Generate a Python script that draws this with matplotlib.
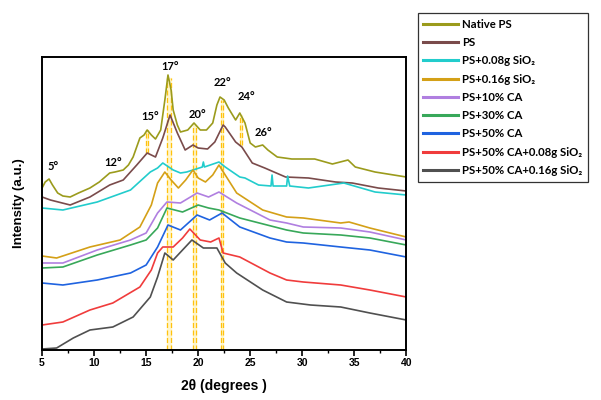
import matplotlib
matplotlib.use('Agg')
import matplotlib.pyplot as plt
from matplotlib.ticker import MultipleLocator

# curve data (2theta in degrees, intensity in arbitrary offset units)
native_x = [5.0, 5.3, 5.67, 6.0, 6.5, 7.0, 7.7, 8.5, 9.6, 10.5, 11.5, 12.0, 12.8, 13.3, 13.75, 14.4, 14.8, 15.1,
            15.5, 15.9, 16.4, 16.8, 17.1, 17.4, 17.6, 18.0, 18.3, 19.0, 19.6, 20.2, 20.8, 21.4, 21.8, 22.1, 22.5,
            22.9, 23.6, 24.0, 24.5, 25.0, 25.5, 26.2, 26.7, 27.6, 29.0, 31.2, 32.9, 34.4, 35.1, 37.0, 40.0]
native_y = [162, 168, 171, 165, 157, 154, 153, 157, 162, 168, 177, 178, 180, 185, 193, 212, 215, 220,
            215, 211, 220, 250, 275, 260, 240, 225, 218, 220, 227, 220, 220, 227, 245, 253, 250,
            242, 230, 237, 227, 207, 203, 205, 200, 193, 191, 191, 186, 190, 183, 178, 173]

ps_x = [5.0, 5.8, 7.7, 9.6, 11.5, 12.8, 14.1, 15.1, 15.9, 16.6, 17.3, 18.0, 18.75, 19.5, 20.0, 20.9, 21.6,
        22.4, 22.6, 23.6, 24.2, 25.2, 26.4, 28.4, 30.6, 33.2, 34.8, 37.3, 40.0]
ps_y = [153, 150, 145, 153, 165, 170, 185, 197, 193, 212, 235, 217, 200, 205, 202, 201, 208,
        225, 223, 208, 203, 187, 182, 173, 172, 168, 167, 162, 159]

si08_x = [5.0, 7.0, 10.3, 13.5, 15.4, 16.1, 16.6, 17.6, 18.3, 18.9, 20.4, 20.5, 20.6, 22.0, 22.6, 24.0, 24.5,
          25.8, 27.0, 27.1, 27.2, 28.5, 28.6, 28.8, 30.6, 34.0, 37.0, 40.0]
si08_y = [142, 140, 148, 160, 178, 182, 187, 180, 177, 178, 183, 188, 183, 188, 183, 173, 172,
          165, 164, 175, 164, 164, 174, 164, 162, 167, 158, 155]

si16_x = [5.0, 6.4, 9.6, 12.5, 14.4, 15.5, 16.1, 16.8, 17.4, 18.1, 18.8, 19.5, 20.0, 20.7, 21.4, 22.0, 22.6,
          23.7, 26.2, 28.5, 30.1, 33.7, 34.5, 36.5, 40.0]
si16_y = [94, 92, 103, 110, 123, 145, 167, 178, 170, 162, 170, 180, 172, 168, 175, 185, 175,
          157, 140, 133, 132, 127, 128, 122, 113]

ca10_x = [5.0, 7.0, 10.3, 13.5, 15.0, 16.1, 17.0, 18.3, 19.9, 21.0, 22.0, 23.7, 26.9, 28.5, 30.1, 33.7, 36.5, 40.0]
ca10_y = [87, 87, 100, 110, 117, 137, 148, 147, 157, 153, 158, 147, 130, 127, 123, 122, 118, 110]

ca30_x = [5.0, 7.0, 10.3, 13.5, 15.0, 16.1, 17.0, 18.5, 20.0, 21.0, 22.0, 24.0, 28.5, 30.1, 33.7, 36.5, 40.0]
ca30_y = [82, 83, 95, 105, 110, 122, 142, 138, 145, 142, 140, 132, 120, 117, 115, 112, 105]

ca50_x = [5.0, 7.0, 10.3, 13.5, 15.0, 16.1, 17.1, 18.3, 19.9, 21.1, 22.3, 24.0, 26.9, 28.5, 30.1, 33.7, 36.5, 40.0]
ca50_y = [67, 65, 70, 77, 85, 103, 125, 120, 135, 130, 137, 123, 112, 108, 107, 103, 100, 93]

ca50_si08_x = [5.0, 7.0, 9.6, 11.8, 14.4, 15.5, 16.1, 16.6, 17.6, 18.5, 19.2, 20.2, 21.2, 22.0, 22.4, 24.0,
               26.9, 28.5, 30.1, 33.7, 36.5, 40.0]
ca50_si08_y = [25, 28, 40, 47, 63, 80, 97, 103, 103, 112, 121, 110, 108, 112, 97, 93,
               77, 70, 68, 65, 60, 53]

ca50_si16_x = [5.0, 6.4, 8.0, 9.6, 11.8, 13.75, 15.4, 16.1, 16.8, 17.6, 18.5, 19.4, 20.5, 21.8, 22.6, 23.7,
               26.2, 28.5, 30.8, 33.7, 36.5, 40.0]
ca50_si16_y = [1, 2, 12, 20, 23, 33, 53, 73, 97, 90, 100, 110, 102, 102, 87, 77,
               60, 48, 45, 43, 37, 30]

labels = ['Native PS', 'PS', 'PS+0.08g SiO₂', 'PS+0.16g SiO₂', 'PS+10% CA',
          'PS+30% CA', 'PS+50% CA', 'PS+50% CA+0.08g SiO₂', 'PS+50% CA+0.16g SiO₂']
colors = ['#9B9B1C', '#7A4B4B', '#22CCCC', '#D4A017', '#B07FE0', '#38A85A', '#1F63E0', '#F03C3C', '#505050']
xs = [native_x, ps_x, si08_x, si16_x, ca10_x, ca30_x, ca50_x, ca50_si08_x, ca50_si16_x]
ys = [native_y, ps_y, si08_y, si16_y, ca10_y, ca30_y, ca50_y, ca50_si08_y, ca50_si16_y]

# peak markers (pairs of dashed lines) and peak labels
mark_x = [17.05, 17.35, 19.55, 19.8, 22.15, 22.4, 15.0, 15.2, 24.0, 24.2]
mark_lo = [0, 0, 0, 0, 0, 0, 197, 197, 205, 205]
mark_hi = [272, 272, 225, 225, 250, 250, 220, 220, 235, 235]
peak_text = ['5°', '12°', '15°', '17°', '20°', '22°', '24°', '26°']
peak_x = [6.1, 11.8, 15.4, 17.3, 19.9, 22.3, 24.6, 26.3]
peak_y = [183, 187, 233, 283, 236, 267, 253, 218]

fig = plt.figure(figsize=(6.01, 4.0), dpi=100)
ax = fig.add_axes([0.070, 0.125, 0.606, 0.7325])

for i in range(0, len(mark_x), 2):
    ax.fill_betweenx([mark_lo[i], mark_hi[i]], mark_x[i], mark_x[i + 1], color='#FFF3B8', alpha=0.7, zorder=1)
ax.vlines(mark_x, mark_lo, mark_hi, colors='#FFC20E', linestyles=(0, (4, 2)), linewidth=0.9, zorder=1)

for x, y, c, lab in zip(xs, ys, colors, labels):
    ax.plot(x, y, color=c, lw=1.2, label=lab, zorder=2)

for t, x, y in zip(peak_text, peak_x, peak_y):
    ax.text(x, y, t, ha='center', va='center', fontsize=8, fontweight='bold', family='Lato')

ax.set_xlim(5, 40)
ax.set_ylim(0, 293)
ax.xaxis.set_major_locator(MultipleLocator(5))
ax.xaxis.set_minor_locator(MultipleLocator(2.5))
ax.set_yticks([])
ax.tick_params(axis='x', which='major', length=4, width=1.2, direction='out', pad=2)
ax.tick_params(axis='x', which='minor', length=2.5, width=1.0, direction='out')
for lab in ax.get_xticklabels():
    lab.set_fontweight('bold')
    lab.set_fontsize(7.5)
    lab.set_family('Liberation Sans')
for s in ax.spines.values():
    s.set_linewidth(1.4)

ax.set_xlabel('2θ (degrees )', fontsize=10, fontweight='bold', family='Liberation Sans', labelpad=8)
ax.set_ylabel('Intensity (a.u.)', fontsize=9.5, fontweight='bold', family='Liberation Sans', labelpad=12)

leg = fig.legend(loc='upper left', bbox_to_anchor=(0.695, 0.9675), frameon=True, fancybox=False,
                 edgecolor='black', prop={'family': ['Lato', 'DejaVu Sans'], 'weight': 'bold', 'size': 8.2},
                 handlelength=3.0, handletextpad=0.42, labelspacing=0.64, borderpad=0.5, borderaxespad=0)
leg.get_frame().set_linewidth(0.9)
for h in leg.get_lines():
    h.set_linewidth(2.2)

fig.savefig('out.png', dpi=100)
